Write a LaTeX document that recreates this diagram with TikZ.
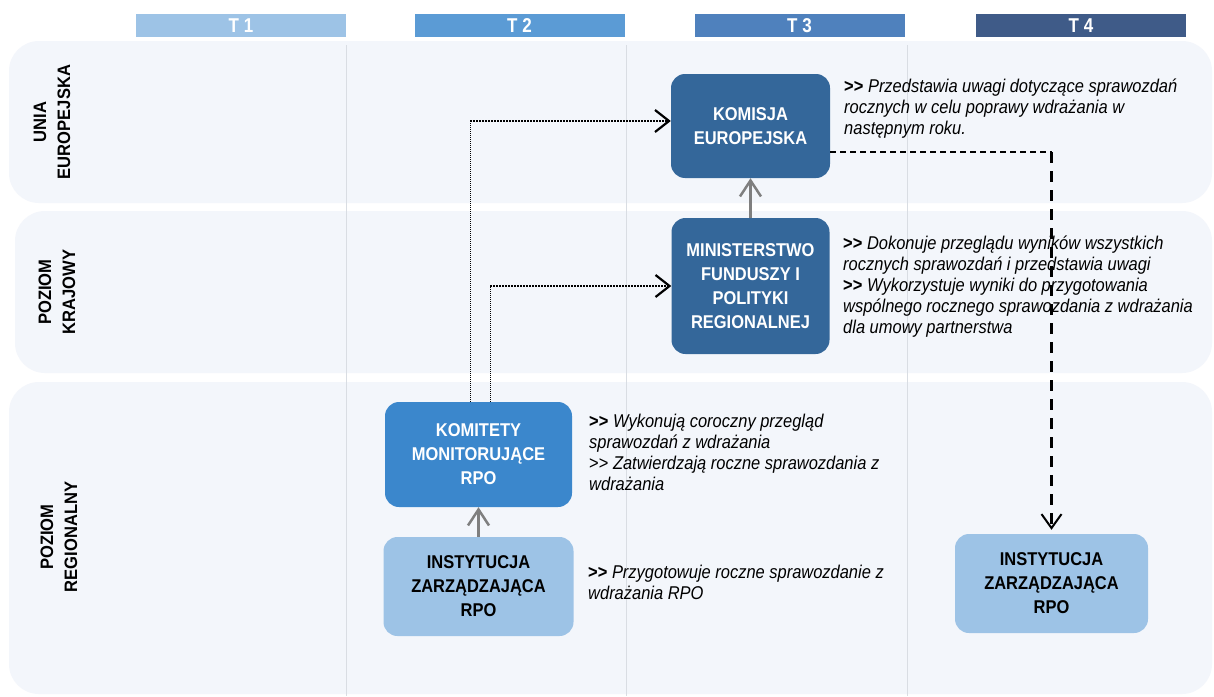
\documentclass[tikz,border=0pt]{standalone}
\usepackage{fontspec}
\setmainfont{Liberation Sans}
\newfontfamily\narrowfont[FakeStretch=0.89]{Liberation Sans}
\newfontfamily\labelfont[FakeStretch=0.92]{Liberation Sans}
\newfontfamily\headfont[FakeStretch=0.85]{Liberation Sans}
\usetikzlibrary{arrows.meta,calc}
\definecolor{lanefill}{HTML}{F3F6FB}
\definecolor{sepcol}{HTML}{D9DDE3}
\definecolor{tone}{HTML}{9DC3E6}
\definecolor{ttwo}{HTML}{5B9BD5}
\definecolor{tthree}{HTML}{4F81BD}
\definecolor{tfour}{HTML}{3F5B88}
\definecolor{darkbox}{HTML}{34679A}
\definecolor{midbox}{HTML}{3B87CC}
\definecolor{lightbox}{HTML}{9DC3E6}
\definecolor{arrgray}{HTML}{7F7F7F}
\newcommand\mygg{{\bfseries\upshape>\kern0pt>}}
\newcommand\myggl{{\upshape>\kern0pt>}}
\begin{document}
\begin{tikzpicture}[x=1pt,y=-1pt,
  lane/.style={fill=lanefill, rounded corners=30pt},
  sepline/.style={draw=sepcol, line width=1pt},
  hdr/.style={minimum width=210pt, minimum height=23pt, inner sep=0pt, text=white,
    font=\headfont\bfseries\fontsize{20}{22}\selectfont},
  lanelabel/.style={rotate=90, align=center, inner sep=0pt,
    font=\labelfont\fontsize{18}{24}\selectfont\bfseries},
  box/.style={rounded corners=14pt, inner sep=0pt, align=center,
    font=\narrowfont\fontsize{18.5}{24}\selectfont\bfseries},
  desc/.style={anchor=north west, inner sep=0pt, align=left,
    font=\narrowfont\fontsize{18.5}{21}\selectfont\itshape},
  grayarrow/.style={draw=arrgray, line width=2.5pt, -{Straight Barb[length=16pt,width=21pt]}},
  dotthin/.style={draw=black, line width=1pt, dash pattern=on 1pt off 1pt},
  dotthick/.style={draw=black, line width=2pt, dash pattern=on 1.5pt off 1.5pt,
    -{Straight Barb[length=14pt,width=22pt,line width=2.2pt]}},
  dashthin/.style={draw=black, line width=1.3pt, dash pattern=on 6pt off 4pt},
  dashthick/.style={draw=black, line width=2.5pt, dash pattern=on 11pt off 8pt,
    -{Straight Barb[length=14pt,width=20pt,line width=2pt]}, shorten >=4pt}
]
\useasboundingbox (0,0) rectangle (1214,696);
\fill[white] (0,0) rectangle (1214,696);

% lanes
\fill[lane] (9,41) rectangle (1212,203);
\fill[lane] (15,211) rectangle (1212,373);
\fill[lane] (9,382) rectangle (1212,694);

% separators
\draw[sepline] (346.5,45) -- (346.5,696);
\draw[sepline] (626,45) -- (626,696);
\draw[sepline] (907,45) -- (907,696);

% header
\node[hdr, fill=tone]   (h1) at (241,25.5)  {T 1};
\node[hdr, fill=ttwo]   (h2) at (519.5,25.5) {T 2};
\node[hdr, fill=tthree] (h3) at (799.5,25.5) {T 3};
\node[hdr, fill=tfour]  (h4) at (1081,25.5) {T 4};

% lane labels
\node[lanelabel] (lue) at (52,122) {UNIA\\EUROPEJSKA};
\node[lanelabel] (lkr) at (57,292) {POZIOM\\KRAJOWY};
\node[lanelabel] (lpr) at (59,537) {POZIOM\\REGIONALNY};

% boxes
\node[box, fill=darkbox, text=white, minimum width=159pt, minimum height=104pt]
  (KE) at (750.5,126) {KOMISJA\\EUROPEJSKA};
\node[box, fill=darkbox, text=white, minimum width=158pt, minimum height=136pt]
  (MF) at (750.5,286) {MINISTERSTWO\\FUNDUSZY I\\POLITYKI\\REGIONALNEJ};
\node[box, fill=midbox, text=white, minimum width=187pt, minimum height=105pt]
  (KM) at (478.5,454.5) {KOMITETY\\MONITORUJĄCE\\RPO};
\node[box, fill=lightbox, text=black, minimum width=190pt, minimum height=99pt]
  (IZ) at (478.5,586.5) {INSTYTUCJA\\ZARZĄDZAJĄCA\\RPO};
\node[box, fill=lightbox, text=black, minimum width=193pt, minimum height=99pt]
  (IZB) at (1051.5,583.5) {INSTYTUCJA\\ZARZĄDZAJĄCA\\RPO};

% descriptions
\node[desc] (dKE) at (844,79) {\mygg{} Przedstawia uwagi dotyczące sprawozdań\\rocznych w celu poprawy wdrażania w\\następnym roku.};
\node[desc] (dMF) at (843,236) {\mygg{} Dokonuje przeglądu wyników wszystkich\\rocznych sprawozdań i przedstawia uwagi\\\mygg{} Wykorzystuje wyniki do przygotowania\\wspólnego rocznego sprawozdania z wdrażania\\dla umowy partnerstwa};
\node[desc] (dKM) at (589,414) {\mygg{} Wykonują coroczny przegląd\\sprawozdań z wdrażania\\\myggl{} Zatwierdzają roczne sprawozdania z\\wdrażania};
\node[desc] (dIZ) at (588,565) {\mygg{} Przygotowuje roczne sprawozdanie z\\wdrażania RPO};

% gray arrows
\draw[grayarrow] (IZ.north) -- (KM.south);
\draw[grayarrow] (MF.north) -- (KE.south);

% dotted arrows
\coordinate (d1) at (470,121);
\coordinate (d2) at (490,286);
\draw[dotthin] (KM.north -| d1) -- (d1);
\draw[dotthick] (d1) -- (d1 -| KE.west);
\draw[dotthin] (KM.north -| d2) -- (d2);
\draw[dotthick] (d2) -- (d2 -| MF.west);

% dashed arrow
\coordinate (e1) at (1051.5,152);
\draw[dashthin] (KE.east |- e1) -- (e1);
\draw[dashthick] (e1) -- (IZB.north);
\end{tikzpicture}
\end{document}
